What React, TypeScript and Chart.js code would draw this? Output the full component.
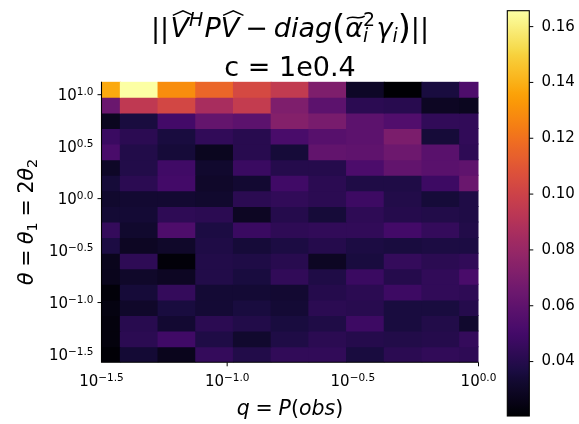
import React, { useEffect, useRef } from "react";
import { Chart, registerables } from "chart.js";

Chart.register(...registerables);

// log10 of q = P(obs): column centres
const qLog10 = [-1.5, -1.35, -1.2, -1.05, -0.9, -0.75, -0.6, -0.45, -0.3, -0.15, 0.0];
// log10 of theta: row centres, top to bottom
const thetaLog10 = [1.05, 0.9, 0.75, 0.6, 0.45, 0.3, 0.15, 0.0, -0.15, -0.3, -0.45, -0.6, -0.75, -0.9, -1.05, -1.2, -1.35, -1.5];
// ||V^H P V - diag(alpha^2 gamma)||, one row per theta (top to bottom), one value per q
const normError = [
  [0.138, 0.1657, 0.129, 0.116, 0.1036, 0.0953, 0.071, 0.030, 0.0205, 0.036, 0.054],
  [0.064, 0.0945, 0.1025, 0.086, 0.096, 0.071, 0.059, 0.042, 0.041, 0.029, 0.028],
  [0.028, 0.036, 0.050, 0.062, 0.059, 0.073, 0.069, 0.059, 0.055, 0.044, 0.044],
  [0.047, 0.042, 0.036, 0.044, 0.041, 0.052, 0.057, 0.059, 0.070, 0.035, 0.044],
  [0.052, 0.039, 0.035, 0.028, 0.041, 0.035, 0.061, 0.060, 0.065, 0.058, 0.043],
  [0.030, 0.039, 0.049, 0.032, 0.047, 0.040, 0.040, 0.053, 0.061, 0.058, 0.060],
  [0.035, 0.042, 0.050, 0.031, 0.033, 0.049, 0.042, 0.038, 0.038, 0.048, 0.064],
  [0.032, 0.033, 0.033, 0.032, 0.042, 0.044, 0.042, 0.048, 0.039, 0.035, 0.038],
  [0.034, 0.034, 0.043, 0.042, 0.029, 0.040, 0.035, 0.043, 0.040, 0.039, 0.038],
  [0.045, 0.032, 0.054, 0.037, 0.047, 0.043, 0.044, 0.044, 0.050, 0.045, 0.039],
  [0.037, 0.029, 0.031, 0.038, 0.035, 0.037, 0.040, 0.037, 0.036, 0.037, 0.037],
  [0.027, 0.043, 0.022, 0.039, 0.038, 0.041, 0.029, 0.036, 0.045, 0.042, 0.044],
  [0.027, 0.031, 0.029, 0.039, 0.036, 0.044, 0.038, 0.047, 0.040, 0.044, 0.052],
  [0.022, 0.035, 0.045, 0.034, 0.034, 0.033, 0.040, 0.042, 0.048, 0.044, 0.043],
  [0.024, 0.031, 0.036, 0.034, 0.036, 0.034, 0.042, 0.041, 0.036, 0.036, 0.040],
  [0.023, 0.041, 0.033, 0.042, 0.039, 0.036, 0.038, 0.048, 0.036, 0.039, 0.032],
  [0.023, 0.042, 0.049, 0.038, 0.032, 0.038, 0.042, 0.040, 0.039, 0.040, 0.045],
  [0.021, 0.034, 0.027, 0.045, 0.039, 0.044, 0.044, 0.036, 0.042, 0.044, 0.043],
];

const xTickExps = [-1.5, -1.0, -0.5, 0.0];
const yTickExps = [1.0, 0.5, 0.0, -0.5, -1.0, -1.5];
const majorTickExps = [-1, 0, 1];
const colorbarTicks = [0.04, 0.06, 0.08, 0.1, 0.12, 0.14, 0.16];
const titleLine2 = "c = 1e0.4";

// inferno colormap anchors
const infernoStops: [number, string][] = [
  [0.0, "#000004"], [0.1, "#160b39"], [0.111, "#1b0c42"], [0.2, "#420a68"], [0.222, "#4b0c6b"],
  [0.3, "#6a176e"], [0.333, "#781c6d"], [0.4, "#932667"], [0.444, "#a52c60"], [0.5, "#bc3754"],
  [0.556, "#cf4446"], [0.6, "#dd513a"], [0.667, "#ed6925"], [0.7, "#f37819"], [0.778, "#fb9a06"],
  [0.8, "#fca50a"], [0.889, "#f7d03c"], [0.9, "#f6d746"], [1.0, "#fcffa4"],
];
function hexRgb(h: string) {
  return [parseInt(h.slice(1, 3), 16), parseInt(h.slice(3, 5), 16), parseInt(h.slice(5, 7), 16)];
}
function inferno(t: number) {
  const u = Math.max(0, Math.min(1, t));
  for (let i = 1; i < infernoStops.length; i++) {
    const [t1, c1] = infernoStops[i];
    if (u <= t1) {
      const [t0, c0] = infernoStops[i - 1];
      const f = (u - t0) / (t1 - t0);
      const a = hexRgb(c0), b = hexRgb(c1);
      return `rgb(${Math.round(a[0] + (b[0] - a[0]) * f)},${Math.round(a[1] + (b[1] - a[1]) * f)},${Math.round(a[2] + (b[2] - a[2]) * f)})`;
    }
  }
  return infernoStops[infernoStops.length - 1][1];
}

const allVals = normError.flat();
const vmin = Math.min(...allVals);
const vmax = Math.max(...allVals);
const halfRow = Math.abs(thetaLog10[0] - thetaLog10[1]) / 2;

const FAM = '"DejaVu Sans", sans-serif';
const fontOf = (size: number, it?: boolean) => `${it ? "italic " : ""}${size}px ${FAM}`;

type Seg = { t: string; it?: boolean; k?: number; dy?: number; padL?: number; padR?: number; acc?: "hat" | "tilde"; sub?: Seg };

function segsWidth(ctx: CanvasRenderingContext2D, segs: Seg[], F: number) {
  let w = 0;
  for (const s of segs) {
    ctx.font = fontOf(F * (s.k ?? 1), s.it);
    let ww = ctx.measureText(s.t).width;
    if (s.sub) {
      ctx.font = fontOf(F * (s.sub.k ?? 1), s.sub.it);
      ww = Math.max(ww, ctx.measureText(s.sub.t).width);
    }
    w += (s.padL ?? 0) * F + ww + (s.padR ?? 0) * F;
  }
  return w;
}

function drawSegs(ctx: CanvasRenderingContext2D, segs: Seg[], F: number, x0: number, base: number) {
  let x = x0;
  for (const s of segs) {
    x += (s.padL ?? 0) * F;
    ctx.font = fontOf(F * (s.k ?? 1), s.it);
    const w = ctx.measureText(s.t).width;
    ctx.fillText(s.t, x, base + (s.dy ?? 0) * F);
    let wm = w;
    if (s.sub) {
      ctx.font = fontOf(F * (s.sub.k ?? 1), s.sub.it);
      const w2 = ctx.measureText(s.sub.t).width;
      ctx.fillText(s.sub.t, x, base + (s.sub.dy ?? 0) * F);
      wm = Math.max(w, w2);
    }
    if (s.acc === "hat") {
      const cx = x + w / 2 + 0.12 * F;
      const hw = w * 0.55;
      ctx.save();
      ctx.lineWidth = 0.055 * F;
      ctx.beginPath();
      ctx.moveTo(cx - hw, base - 0.8 * F);
      ctx.lineTo(cx, base - 0.97 * F);
      ctx.lineTo(cx + hw, base - 0.8 * F);
      ctx.stroke();
      ctx.restore();
    } else if (s.acc === "tilde") {
      const cx = x + w / 2 + 0.06 * F;
      const hw = w * 0.5;
      const yc = base - 0.72 * F;
      const a = 0.05 * F;
      ctx.save();
      ctx.lineWidth = 0.055 * F;
      ctx.beginPath();
      ctx.moveTo(cx - hw, yc + a);
      ctx.bezierCurveTo(cx - hw / 3, yc - 2.4 * a, cx + hw / 3, yc + 2.4 * a, cx + hw, yc - a);
      ctx.stroke();
      ctx.restore();
    }
    x += wm + (s.padR ?? 0) * F;
  }
}

const titleSegs: Seg[] = [
  { t: "||" },
  { t: "V", it: true, acc: "hat", padL: 0.05 },
  { t: "H", it: true, k: 0.7, dy: -0.42 },
  { t: "P", it: true, padL: 0.05 },
  { t: "V", it: true, acc: "hat" },
  { t: "\u2212", padL: 0.22, padR: 0.22 },
  { t: "diag", it: true },
  { t: "(", k: 1.25, dy: 0.08 },
  { t: "\u03b1", it: true, acc: "tilde" },
  { t: "2", k: 0.7, dy: -0.42, sub: { t: "i", it: true, k: 0.7, dy: 0.2 } },
  { t: "\u03b3", it: true, padL: 0.05 },
  { t: "i", it: true, k: 0.7, dy: 0.2 },
  { t: ")", k: 1.25, dy: 0.08 },
  { t: "||" },
];
const xTitleSegs: Seg[] = [
  { t: "q", it: true },
  { t: "=", padL: 0.28, padR: 0.28 },
  { t: "P", it: true },
  { t: "(" },
  { t: "obs", it: true },
  { t: ")" },
];
const yTitleSegs: Seg[] = [
  { t: "\u03b8", it: true },
  { t: "=", padL: 0.28, padR: 0.28 },
  { t: "\u03b8", it: true },
  { t: "1", k: 0.7, dy: 0.2 },
  { t: "=", padL: 0.28, padR: 0.28 },
  { t: "2" },
  { t: "\u03b8", it: true },
  { t: "2", k: 0.7, dy: 0.2 },
];

const expText = (v: number) => (v < 0 ? "\u2212" : "") + Math.abs(v).toFixed(1);
const TICK_F = 15;
const EXP_F = 10.5;

function drawPow(ctx: CanvasRenderingContext2D, v: number, x: number, base: number, align: "right" | "center") {
  ctx.font = fontOf(TICK_F);
  const w1 = ctx.measureText("10").width;
  ctx.font = fontOf(EXP_F);
  const e = expText(v);
  const w2 = ctx.measureText(e).width;
  const left = align === "right" ? x - w1 - w2 : x - (w1 + w2) / 2;
  ctx.font = fontOf(TICK_F);
  ctx.fillText("10", left, base);
  ctx.font = fontOf(EXP_F);
  ctx.fillText(e, left + w1, base - 5.5);
}

const decorPlugin = {
  id: "decor",
  afterDraw(chart: any) {
    const ctx: CanvasRenderingContext2D = chart.ctx;
    const xs = chart.scales.x;
    const ys = chart.scales.y;
    const a = chart.chartArea;
    ctx.save();
    ctx.fillStyle = "#000";
    ctx.strokeStyle = "#000";
    ctx.textAlign = "left";
    ctx.textBaseline = "alphabetic";

    // spines
    ctx.lineWidth = 1.1;
    ctx.beginPath();
    ctx.moveTo(a.left, a.top);
    ctx.lineTo(a.left, a.bottom);
    ctx.lineTo(a.right, a.bottom);
    ctx.stroke();

    // major tick marks
    ctx.lineWidth = 1;
    for (const v of majorTickExps) {
      if (v >= xs.min && v <= xs.max) {
        const px = Math.min(xs.getPixelForValue(v), a.right);
        ctx.beginPath();
        ctx.moveTo(px, a.bottom);
        ctx.lineTo(px, a.bottom + 4);
        ctx.stroke();
      }
      if (v >= ys.min && v <= ys.max) {
        const py = ys.getPixelForValue(v);
        ctx.beginPath();
        ctx.moveTo(a.left - 4, py);
        ctx.lineTo(a.left, py);
        ctx.stroke();
      }
    }

    // tick labels
    for (const v of xTickExps) drawPow(ctx, v, xs.getPixelForValue(v), a.bottom + 24, "center");
    for (const v of yTickExps) drawPow(ctx, v, a.left - 8, ys.getPixelForValue(v) + 5.5, "right");

    // axis titles
    const AF = 20.5;
    const cx = (a.left + a.right) / 2;
    drawSegs(ctx, xTitleSegs, AF, cx - segsWidth(ctx, xTitleSegs, AF) / 2, 415);
    ctx.save();
    ctx.translate(33, (a.top + a.bottom) / 2);
    ctx.rotate(-Math.PI / 2);
    drawSegs(ctx, yTitleSegs, AF, -segsWidth(ctx, yTitleSegs, AF) / 2, 0);
    ctx.restore();

    // title
    const TF = 27;
    drawSegs(ctx, titleSegs, TF, cx - segsWidth(ctx, titleSegs, TF) / 2, 37);
    ctx.font = fontOf(TF);
    ctx.textAlign = "center";
    ctx.fillText(titleLine2, cx, 76);
    ctx.textAlign = "left";

    // colorbar
    const cb = { x0: 507.3, x1: 529.3, y0: 10.7, y1: 416 };
    const grad = ctx.createLinearGradient(0, cb.y1, 0, cb.y0);
    for (let i = 0; i <= 64; i++) grad.addColorStop(i / 64, inferno(i / 64));
    ctx.fillStyle = grad;
    ctx.fillRect(cb.x0, cb.y0, cb.x1 - cb.x0, cb.y1 - cb.y0);
    ctx.lineWidth = 1.1;
    ctx.strokeStyle = "#000";
    ctx.strokeRect(cb.x0, cb.y0, cb.x1 - cb.x0, cb.y1 - cb.y0);
    ctx.fillStyle = "#000";
    ctx.font = fontOf(TICK_F);
    ctx.textBaseline = "middle";
    ctx.lineWidth = 1;
    for (const v of colorbarTicks) {
      const py = cb.y1 - ((v - vmin) / (vmax - vmin)) * (cb.y1 - cb.y0);
      ctx.beginPath();
      ctx.moveTo(cb.x1, py);
      ctx.lineTo(cb.x1 + 4, py);
      ctx.stroke();
      ctx.fillText(v.toFixed(2), 541.5, py);
    }
    ctx.restore();
  },
};

export default function App() {
  const ref = useRef<HTMLCanvasElement>(null);
  useEffect(() => {
    const canvas = ref.current!;
    const datasets = thetaLog10.map((th, r) => ({
      label: `theta=10^${th}`,
      data: qLog10.map((q) => ({ x: q, y: [th - halfRow, th + halfRow] })),
      backgroundColor: qLog10.map((_, c) => inferno((normError[r][c] - vmin) / (vmax - vmin))),
      borderWidth: 0,
      grouped: false,
      barPercentage: 1,
      categoryPercentage: 1,
      inflateAmount: 0.5,
      clip: 0,
    }));
    const chart = new Chart(canvas, {
      type: "bar",
      data: { datasets: datasets as any },
      options: {
        animation: false,
        responsive: false,
        events: [],
        layout: { padding: { left: 101.5, top: 81.7, right: 579 - 478.5, bottom: 424 - 362.3 } },
        scales: {
          x: {
            type: "linear",
            min: qLog10[0],
            max: qLog10[qLog10.length - 1],
            display: false,
            offset: false,
            bounds: "data",
            afterBuildTicks: (scale: any) => {
              scale.ticks = qLog10.map((v) => ({ value: v }));
            },
          } as any,
          y: {
            type: "linear",
            min: Math.min(...thetaLog10) - halfRow,
            max: Math.max(...thetaLog10) + halfRow,
            display: false,
            beginAtZero: false,
            bounds: "data",
          } as any,
        },
        plugins: { legend: { display: false }, tooltip: { enabled: false }, title: { display: false } },
      },
      plugins: [decorPlugin],
    });
    return () => chart.destroy();
  }, []);
  return (
    <div style={{ position: "absolute", left: 0, top: 0, width: 579, height: 424, background: "#fff" }}>
      <canvas ref={ref} width={579} height={424} style={{ display: "block", width: 579, height: 424 }} />
    </div>
  );
}
